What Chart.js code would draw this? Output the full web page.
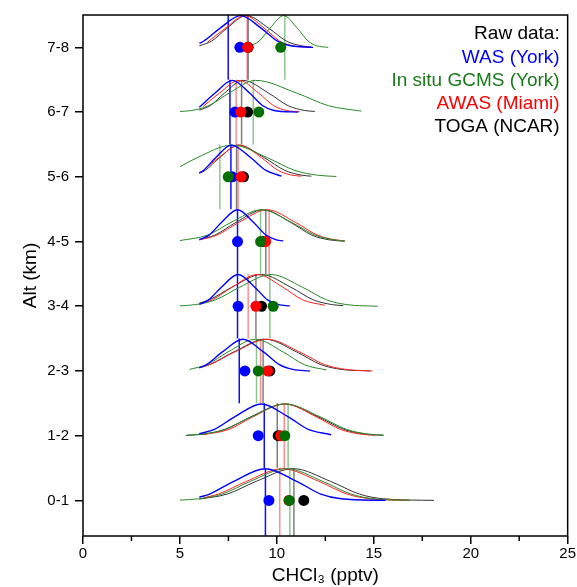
<!DOCTYPE html>
<html>
<head>
<meta charset="utf-8">
<script src="https://cdn.jsdelivr.net/npm/chart.js@4"></script>
<style>
  html, body { margin: 0; padding: 0; background: #fff; }
  canvas { display: block; }
</style>
</head>
<body>
<canvas id="c" width="577" height="587"></canvas>
<script>
// ---------------- DATA ----------------
const categories = ['0-1', '1-2', '2-3', '3-4', '4-5', '5-6', '6-7', '7-8'];
const seriesNames = ['WAS (York)', 'In situ GCMS (York)', 'AWAS (Miami)', 'TOGA (NCAR)'];
const xTicks = [0, 5, 10, 15, 20, 25];
const xMinorTicks = [2.5, 7.5, 12.5, 17.5, 22.5];

// mean values (dots), one per altitude band
const wasMean  = [9.59, 9.04, 8.35, 8.00, 7.97, 7.70, 7.84, 8.09];
const gcmsMean = [10.64, 10.41, 9.04, 9.81, 9.16, 7.49, 9.07, 10.20];
const awasMean = [10.62, 10.20, 9.52, 8.92, 9.42, 8.16, 8.14, 8.49];
const togaMean = [11.39, 10.07, 9.64, 9.21, 9.30, 8.28, 8.49, 8.52];

// median values (vertical lines), one per altitude band
const wasMedian  = [9.41, 9.35, 8.06, 7.97, 7.97, 7.63, 7.58, 7.49];
const gcmsMedian = [10.67, 10.58, 8.95, 9.64, 9.16, 7.06, 8.78, 10.41];
const awasMedian = [10.15, 10.38, 9.16, 8.52, 9.60, 8.00, 7.90, 8.47];
const togaMedian = [10.88, 10.02, 9.29, 8.92, 9.43, 7.92, 8.18, 8.52];

// distribution curves: per band, points [CHCl3 value, relative height 0..1]
const wasCurves = [
  [[6.0,0.1],[6.53,0.2],[7.78,0.6],[9.4,1],[11.02,0.6],[12.27,0.2],[13.32,0.05],[15.6,0]],
  [[6.0,0.06],[6.78,0.2],[7.84,0.6],[9.2,1],[10.57,0.6],[11.62,0.2],[12.8,0.03]],
  [[6.0,0.1],[6.37,0.2],[7.19,0.6],[8.25,1],[9.31,0.6],[10.13,0.2],[10.82,0.05],[11.7,0]],
  [[6.0,0.06],[6.48,0.2],[7.14,0.6],[8.0,1],[8.86,0.6],[9.52,0.2],[10.08,0.05],[10.67,0.01]],
  [[6.0,0.06],[6.5,0.2],[7.14,0.6],[7.97,1],[8.8,0.6],[9.44,0.2],[9.98,0.05],[10.33,0.02]],
  [[6.0,0.12],[6.21,0.2],[6.84,0.6],[7.65,1],[8.66,0.6],[9.44,0.2],[10.24,0.02]],
  [[6.0,0.15],[6.81,0.6],[7.7,1],[8.59,0.6],[9.28,0.2],[9.85,0.05],[11.1,0]],
  [[6.0,0.13],[6.23,0.2],[7.06,0.6],[8.13,1],[9.2,0.6],[10.03,0.2],[10.72,0.05],[11.87,0]]
];
const gcmsCurves = [
  [[5.0,0.01],[5.97,0.05],[7.18,0.2],[8.63,0.6],[10.5,1],[12.37,0.6],[13.82,0.2],[15.03,0.05],[16.85,0]],
  [[5.4,0.02],[6.17,0.05],[7.31,0.2],[8.68,0.6],[10.45,1],[12.22,0.6],[13.59,0.2],[14.73,0.05],[15.5,0.02]],
  [[5.5,0.05],[6.39,0.2],[7.48,0.6],[8.9,1],[10.32,0.6],[11.41,0.2],[12.56,0.03]],
  [[5.0,0.01],[5.78,0.05],[6.83,0.2],[8.08,0.6],[9.7,1],[11.32,0.6],[12.57,0.2],[13.62,0.05],[15.2,0]],
  [[5.0,0.03],[6.42,0.2],[7.63,0.6],[9.2,1],[10.77,0.6],[11.98,0.2],[12.99,0.05],[13.5,0.02]],
  [[5.0,0.32],[5.88,0.6],[7.7,1],[9.52,0.6],[10.93,0.2],[12.11,0.05],[13.07,0.01]],
  [[5.0,0.02],[5.6,0.05],[6.48,0.2],[7.54,0.6],[8.9,1],[11.02,0.6],[12.67,0.2],[14.36,0.03]],
  [[8.6,0.04],[9.09,0.2],[9.64,0.6],[10.35,1],[11.06,0.6],[11.61,0.2],[12.06,0.05],[12.65,0]]
];
const awasCurves = [
  [[6.2,0.08],[6.98,0.2],[8.43,0.6],[10.3,1],[12.17,0.6],[13.62,0.2],[14.83,0.05],[16.85,0]],
  [[6.2,0.03],[7.53,0.2],[8.78,0.6],[10.4,1],[12.02,0.6],[13.27,0.2],[14.32,0.05],[15.05,0.01]],
  [[6.1,0.12],[6.54,0.2],[7.83,0.6],[9.5,1],[11.17,0.6],[12.46,0.2],[13.54,0.05],[14.93,0]],
  [[6.1,0.08],[6.67,0.2],[7.69,0.6],[9.0,1],[10.31,0.6],[11.33,0.2],[12.47,0.03]],
  [[6.0,0.05],[6.9,0.2],[8.03,0.6],[9.5,1],[10.97,0.6],[12.1,0.2],[13.05,0.05],[13.5,0.02]],
  [[6.3,0.26],[6.99,0.6],[8.1,1],[9.21,0.6],[10.07,0.2],[10.79,0.05],[11.27,0.02]],
  [[6.2,0.18],[7.04,0.6],[8.05,1],[9.06,0.6],[9.84,0.2],[10.5,0.05],[11.18,0.01]],
  [[6.4,0.15],[7.34,0.6],[8.35,1],[9.36,0.6],[10.14,0.2],[10.8,0.05],[11.7,0]]
];
const togaCurves = [
  [[6.0,0.04],[7.44,0.2],[8.93,0.6],[10.85,1],[12.77,0.6],[14.26,0.2],[15.5,0.05],[18.1,0]],
  [[5.3,0.01],[6.24,0.05],[7.35,0.2],[8.68,0.6],[10.4,1],[12.12,0.6],[13.45,0.2],[14.56,0.05],[15.5,0.01]],
  [[6.0,0.1],[6.53,0.2],[7.78,0.6],[9.4,1],[11.02,0.6],[12.27,0.2],[13.32,0.05],[14.8,0]],
  [[6.0,0.1],[6.51,0.2],[7.68,0.6],[9.2,1],[10.72,0.6],[11.89,0.2],[12.87,0.05],[13.42,0.02]],
  [[6.0,0.06],[6.79,0.2],[7.88,0.6],[9.3,1],[10.72,0.6],[11.81,0.2],[12.73,0.05],[13.5,0.01]],
  [[6.0,0.11],[6.3,0.2],[7.04,0.6],[8.0,1],[9.36,0.6],[10.42,0.2],[11.3,0.05],[11.78,0.02]],
  [[6.0,0.06],[6.56,0.2],[7.3,0.6],[8.26,1],[9.57,0.6],[10.59,0.2],[11.44,0.05],[11.96,0.02]],
  [[6.0,0.05],[6.64,0.2],[7.42,0.6],[8.43,1],[9.59,0.6],[10.49,0.2],[11.25,0.05],[11.78,0.01]]
];

// ---------------- STYLE ----------------
const Y_MIN = -0.05, Y_MAX = 8;
const CURVE_AMP = 0.49;   // height of a curve peak in band units
const FONT = "'Liberation Sans', Arial, Helvetica, sans-serif";

const series = [
  { name: seriesNames[0], mean: wasMean,  median: wasMedian,  curves: wasCurves,
    curveColor: '#0000ff', curveWidth: 1.4, lineColor: 'rgba(0,0,255,0.95)', dotColor: '#0000ff', textColor: '#0000ff', dotOrder: 3 },
  { name: seriesNames[1], mean: gcmsMean, median: gcmsMedian, curves: gcmsCurves,
    curveColor: '#2a8a2a', curveWidth: 1, lineColor: 'rgba(0,128,0,0.45)', dotColor: '#006e00', textColor: '#1a7a1a', dotOrder: 1 },
  { name: seriesNames[2], mean: awasMean, median: awasMedian, curves: awasCurves,
    curveColor: '#ff2020', curveWidth: 1, lineColor: 'rgba(255,0,0,0.45)', dotColor: '#ff0000', textColor: '#ff0000', dotOrder: 2 },
  { name: seriesNames[3], mean: togaMean, median: togaMedian, curves: togaCurves,
    curveColor: '#333333', curveWidth: 1, lineColor: 'rgba(0,0,0,0.5)', dotColor: '#000000', textColor: '#000000', dotOrder: 4 }
];

const datasets = [];
series.forEach((s) => {
  s.curves.forEach((pts, k) => {
    datasets.push({
      type: 'line',
      data: pts.map(([x, h]) => ({ x: x, y: k + 0.5 + h * CURVE_AMP })),
      borderColor: s.curveColor, borderWidth: s.curveWidth,
      pointRadius: 0, fill: false, cubicInterpolationMode: 'monotone',
      order: 20
    });
  });
  s.median.forEach((m, k) => {
    datasets.push({
      type: 'line',
      data: [{ x: m, y: k === 0 ? Y_MIN : k }, { x: m, y: k + 1 }],
      borderColor: s.lineColor, borderWidth: 1.5,
      pointRadius: 0, fill: false,
      order: 30
    });
  });
  datasets.push({
    type: 'scatter',
    data: s.mean.map((m, k) => ({ x: m, y: k + 0.5 })),
    backgroundColor: s.dotColor, borderColor: s.dotColor, borderWidth: 0,
    pointRadius: 5.5,
    order: s.dotOrder
  });
});

const framePlugin = {
  id: 'frame',
  afterDraw(chart) {
    const { ctx, chartArea: a, scales } = chart;
    ctx.save();
    ctx.strokeStyle = '#000';
    ctx.lineWidth = 1.5;
    xMinorTicks.forEach(v => {
      const px = scales.x.getPixelForValue(v);
      ctx.beginPath();
      ctx.moveTo(px, a.bottom);
      ctx.lineTo(px, a.bottom + 5);
      ctx.stroke();
    });
    ctx.strokeRect(a.left, a.top, a.right - a.left, a.bottom - a.top);
    // legend text (coloured labels, right aligned)
    ctx.font = '19px ' + FONT;
    ctx.textAlign = 'right';
    ctx.textBaseline = 'middle';
    const xr = a.right - 8;
    ctx.fillStyle = '#000';
    ctx.fillText('Raw data:', xr, a.top + 19);
    series.forEach((s, i) => {
      ctx.fillStyle = s.textColor;
      ctx.fillText(s.name, xr, a.top + 19 + 23.3 * (i + 1));
    });
    ctx.restore();
  }
};

Chart.defaults.font.family = FONT;
Chart.defaults.color = '#000';

new Chart(document.getElementById('c'), {
  data: { datasets: datasets },
  options: {
    responsive: false,
    animation: false,
    devicePixelRatio: 1,
    layout: { padding: { top: 13, right: 9, left: 0, bottom: 0 } },
    plugins: { legend: { display: false }, tooltip: { enabled: false } },
    scales: {
      x: {
        type: 'linear', min: 0, max: 25,
        afterBuildTicks: (scale) => { scale.ticks = xTicks.map(v => ({ value: v })); },
        afterFit: (scale) => { scale.height = 51; },
        ticks: { font: { size: 15 }, color: '#000', padding: 1, maxRotation: 0 },
        grid: { drawOnChartArea: false, drawTicks: true, tickLength: 8, color: '#000', lineWidth: 1.5 },
        border: { display: false },
        title: { display: true, text: 'CHCl₃ (pptv)', font: { size: 19 }, color: '#000', padding: { top: -2, bottom: 0 } }
      },
      y: {
        type: 'linear', min: Y_MIN, max: Y_MAX,
        afterBuildTicks: (scale) => { scale.ticks = categories.map((c, i) => ({ value: i + 0.5 })); },
        afterFit: (scale) => { scale.width = 83; },
        ticks: {
          font: { size: 15 }, color: '#000', padding: 6,
          callback: (v) => categories[Math.round(v - 0.5)]
        },
        grid: { drawOnChartArea: false, drawTicks: true, tickLength: 8, color: '#000', lineWidth: 1.5 },
        border: { display: false },
        title: { display: true, text: 'Alt (km)', font: { size: 19 }, color: '#000', padding: { top: 19, bottom: 0 } }
      }
    }
  },
  plugins: [framePlugin]
});
</script>
</body>
</html>
